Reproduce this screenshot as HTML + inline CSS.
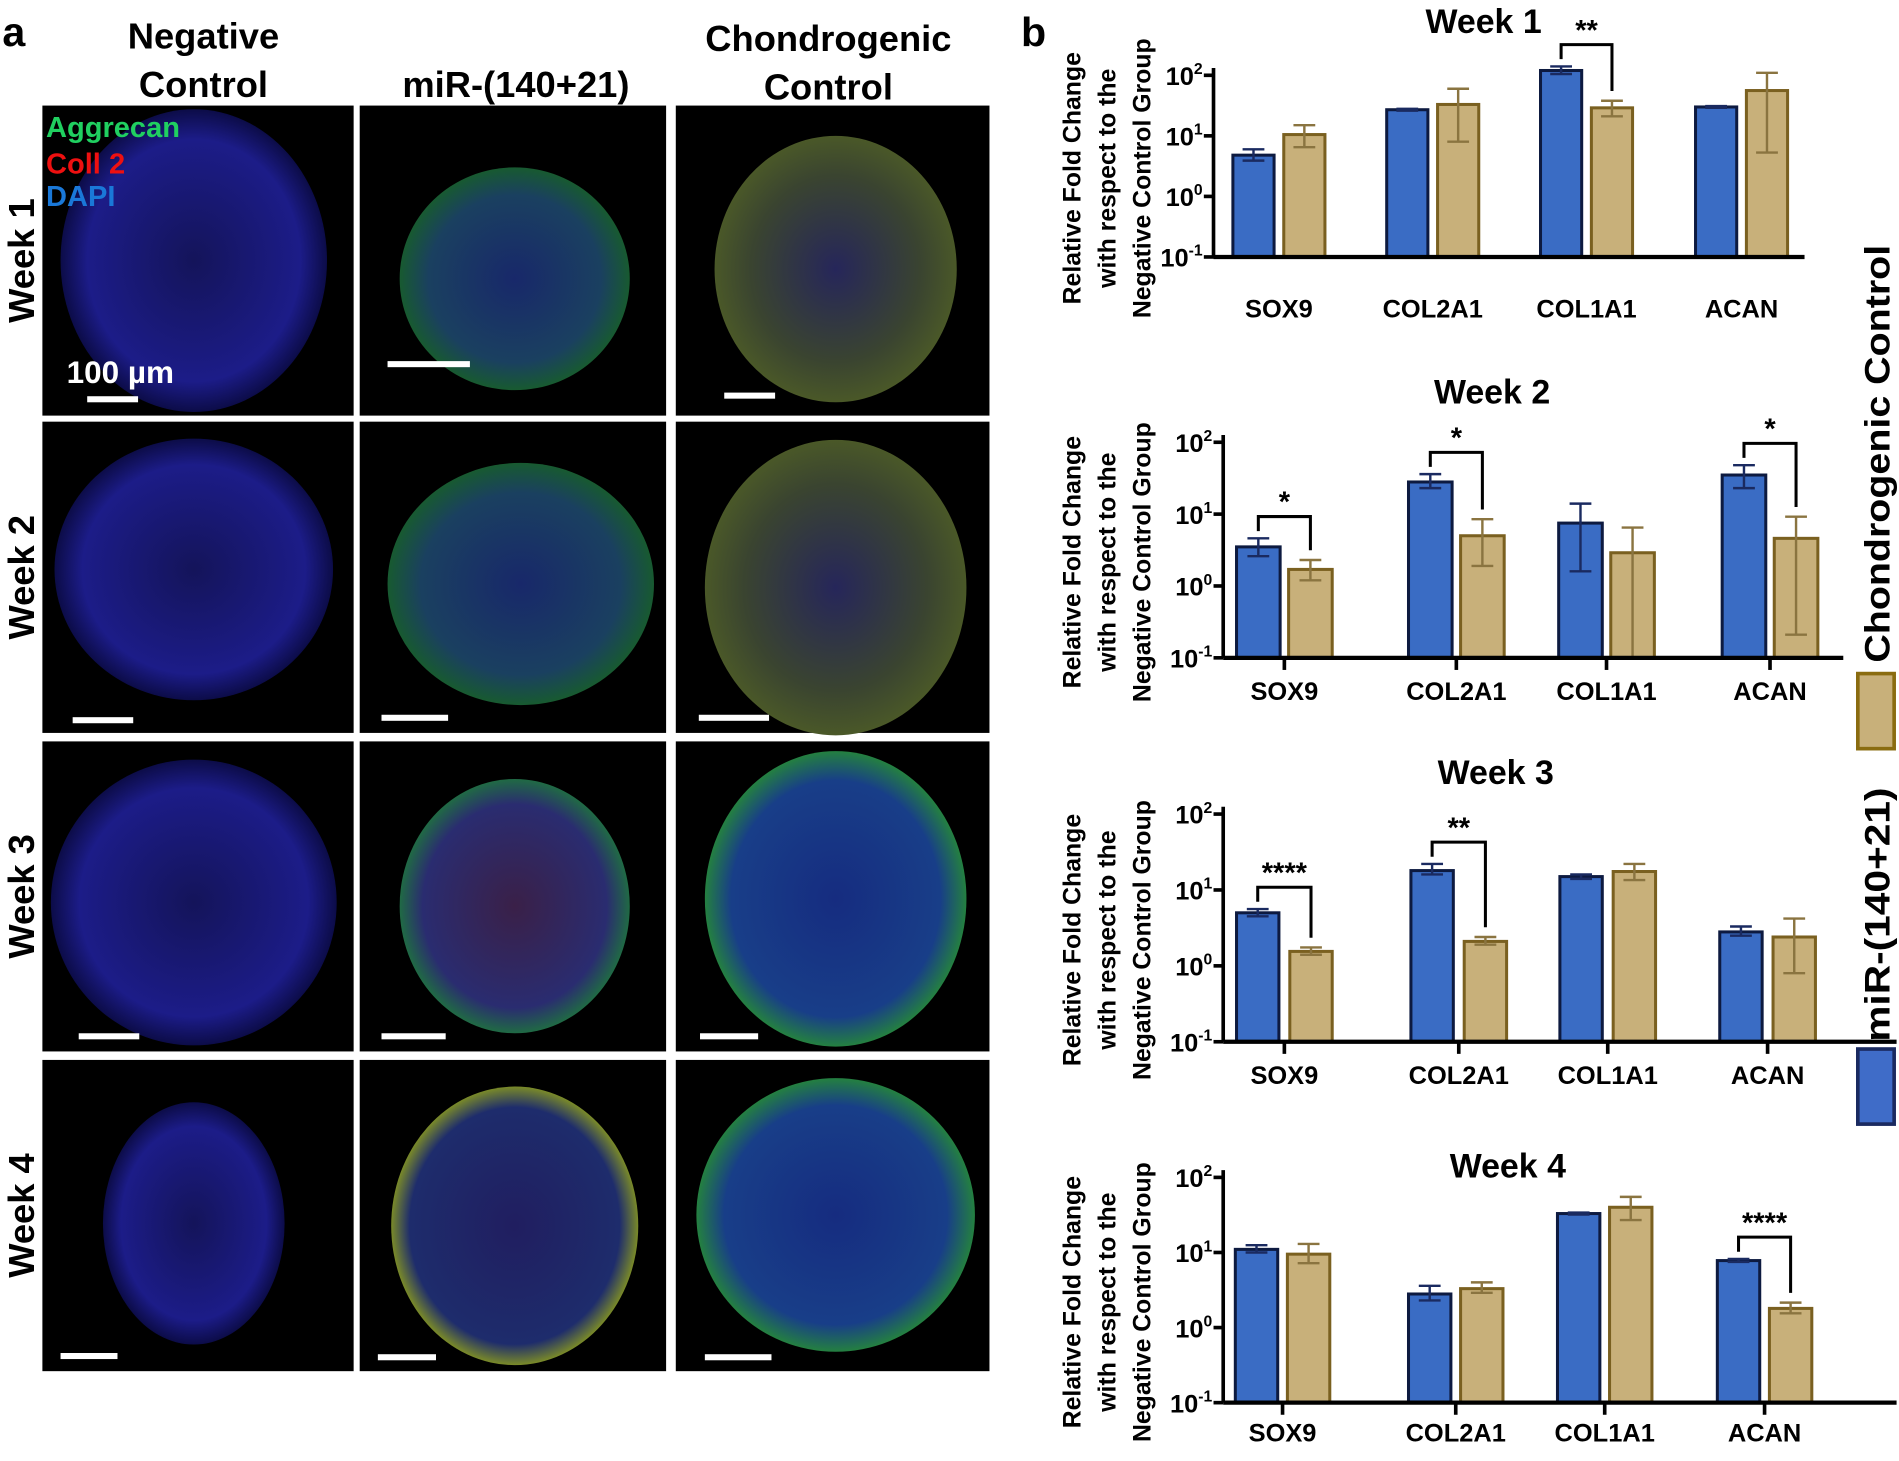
<!DOCTYPE html>
<html><head><meta charset="utf-8">
<style>
html,body{margin:0;padding:0;background:#fff;}
svg{display:block;}
text{font-family:"Liberation Sans",Arial,sans-serif;font-weight:bold;fill:#000;}
.n{font-family:"Liberation Sans",sans-serif;}
</style></head>
<body>
<svg id="fig" width="1899" height="1461" viewBox="0 0 1568 1206" xmlns="http://www.w3.org/2000/svg">
<defs>
<radialGradient id="gBlue"><stop offset="0" stop-color="#14145a"/><stop offset="0.8" stop-color="#1c1c88"/><stop offset="1" stop-color="#0c0c48"/></radialGradient>
<radialGradient id="gTeal"><stop offset="0" stop-color="#18286a"/><stop offset="0.75" stop-color="#1a4060"/><stop offset="1" stop-color="#185a30"/></radialGradient>
<radialGradient id="gOlive"><stop offset="0" stop-color="#26265a"/><stop offset="0.7" stop-color="#3a4430"/><stop offset="1" stop-color="#4a5828"/></radialGradient>
<radialGradient id="gRed"><stop offset="0" stop-color="#3a2048"/><stop offset="0.8" stop-color="#2a2c70"/><stop offset="1" stop-color="#206a44"/></radialGradient>
<radialGradient id="gCyan"><stop offset="0" stop-color="#162c80"/><stop offset="0.8" stop-color="#183e88"/><stop offset="1" stop-color="#248040"/></radialGradient>
<radialGradient id="gRim"><stop offset="0" stop-color="#201e60"/><stop offset="0.85" stop-color="#1e2c6c"/><stop offset="1" stop-color="#7a8a28"/></radialGradient>
</defs>

<g>
<text x="2" y="38" font-size="34">a</text>
<text class="n" x="168" y="40" font-size="30" text-anchor="middle"><tspan x="168">Negative</tspan><tspan x="168" dy="40">Control</tspan></text>
<text class="n" x="426" y="80" font-size="30" text-anchor="middle">miR-(140+21)</text>
<text class="n" x="684" y="42" font-size="30" text-anchor="middle"><tspan x="684">Chondrogenic</tspan><tspan x="684" dy="40">Control</tspan></text>
<g id="images"></g>
<text class="n" x="38" y="113" font-size="24" style="fill:#20d060">Aggrecan</text>
<text class="n" x="38" y="143" font-size="24" style="fill:#ee1010">Coll 2</text>
<text class="n" x="38" y="170" font-size="24" style="fill:#1a78d8">DAPI</text>
<text class="n" x="55" y="316" font-size="26" style="fill:#fff">100 µm</text>
</g>

<g>
<text x="843" y="38" font-size="34">b</text>
<g id="charts"></g>
<g>
<rect x="1534" y="556" width="30" height="62" fill="#c8b07a" stroke="#8a6c10" stroke-width="3"/>
<text class="n" transform="translate(1560,547) rotate(-90)" font-size="29" textLength="345" lengthAdjust="spacingAndGlyphs">Chondrogenic Control</text>
<rect x="1534" y="866" width="30" height="62" fill="#3f6cc8" stroke="#1a2a60" stroke-width="3"/>
<text class="n" transform="translate(1560,860) rotate(-90)" font-size="29" textLength="210" lengthAdjust="spacingAndGlyphs">miR-(140+21)</text>
</g>
</g>
</svg>
<script>
// ---- chart data ----
const categories = ["SOX9","COL2A1","COL1A1","ACAN"];
const weeks = ["Week 1","Week 2","Week 3","Week 4"];
const tickExps = [2,1,0,-1];
const mirW1 = [4.8, 27, 120, 30];
const mirW1Lo = [3.9, 26, 105, 29];
const mirW1Hi = [6, 28, 140, 31];
const chW1 = [10.5, 33, 29, 56];
const chW1Lo = [6.5, 8, 21, 5.3];
const chW1Hi = [15, 60, 38, 110];
const mirW2 = [3.5, 28, 7.5, 35];
const mirW2Lo = [2.6, 23, 1.6, 23];
const mirW2Hi = [4.6, 36, 14, 48];
const chW2 = [1.7, 5, 2.9, 4.6];
const chW2Lo = [1.2, 1.9, 0.1, 0.21];
const chW2Hi = [2.3, 8.5, 6.5, 9.2];
const mirW3 = [5, 18, 15, 2.8];
const mirW3Lo = [4.5, 16, 14, 2.5];
const mirW3Hi = [5.6, 22, 16, 3.3];
const chW3 = [1.55, 2.1, 17.5, 2.4];
const chW3Lo = [1.4, 1.9, 13.5, 0.8];
const chW3Hi = [1.75, 2.4, 22, 4.2];
const mirW4 = [11, 2.8, 33, 7.8];
const mirW4Lo = [10, 2.3, 32, 7.5];
const mirW4Hi = [12.5, 3.6, 34, 8.2];
const chW4 = [9.5, 3.3, 40, 1.8];
const chW4Lo = [7.2, 2.9, 27, 1.55];
const chW4Hi = [13, 4, 55, 2.15];
const sigW1 = [[2,"**"]];
const sigW2 = [[0,"*"],[1,"*"],[3,"*"]];
const sigW3 = [[0,"****"],[1,"**"]];
const sigW4 = [[3,"****"]];

const NS="http://www.w3.org/2000/svg";
function mk(tag, attrs, parent){const e=document.createElementNS(NS,tag);for(const k in attrs)e.setAttribute(k,attrs[k]);parent.appendChild(e);return e;}

const layouts = [
 {ax:1002, yTop:62, yBase:212, xEnd:1490, lefts:[1018,1145,1272,1400], bw:34, off:42, tx:1225, ty:27, ticks:false, ly:262},
 {ax:1010, yTop:365, yBase:543, xEnd:1522, lefts:[1021,1163,1287,1422], bw:36, off:43, tx:1232, ty:333, ticks:true, ly:578},
 {ax:1010, yTop:672, yBase:860, xEnd:1566, lefts:[1021,1165,1288,1420], bw:35, off:44, tx:1235, ty:647, ticks:true, ly:895},
 {ax:1010, yTop:972, yBase:1158, xEnd:1566, lefts:[1020,1163,1286,1418], bw:35, off:43, tx:1245, ty:972, ticks:true, ly:1190}
];
const series = [
 [mirW1,mirW1Lo,mirW1Hi,chW1,chW1Lo,chW1Hi,sigW1],
 [mirW2,mirW2Lo,mirW2Hi,chW2,chW2Lo,chW2Hi,sigW2],
 [mirW3,mirW3Lo,mirW3Hi,chW3,chW3Lo,chW3Hi,sigW3],
 [mirW4,mirW4Lo,mirW4Hi,chW4,chW4Lo,chW4Hi,sigW4]
];
const charts=document.getElementById('charts');
layouts.forEach((L,wi)=>{
  const g=mk('g',{},charts);
  
  
  const y=v=>L.yBase-(Math.log10(Math.max(v,0.1))+1)/3*(L.yBase-L.yTop);
  const t=mk('text',{x:L.tx,y:L.ty,'font-size':28,'text-anchor':'middle'},g);t.textContent=weeks[wi];
  
  
  const mid=(L.yTop+L.yBase)/2;
  const yt=mk('text',{'font-size':20.5,'text-anchor':'middle',transform:`translate(892,${mid+10}) rotate(-90)`},g);
  
  
  ["Relative  Fold Change","with respect to the","Negative Control Group"].forEach((s,i)=>{const ts=mk('tspan',{x:0,dy:i?29:0},yt);ts.textContent=s;});
  const ya=mk('line',{x1:L.ax,y1:L.yTop-6,x2:L.ax,y2:L.yBase,stroke:'#000','stroke-width':3},g);
  
  
  tickExps.forEach(e=>{
    const yy=y(Math.pow(10,e));
    mk('line',{x1:L.ax-8,y1:yy,x2:L.ax,y2:yy,stroke:'#000','stroke-width':3},g);
    const tl=mk('text',{x:L.ax-9,y:yy+8,'font-size':21,'text-anchor':'end',class:'n'},g);
    
    
    const a=mk('tspan',{},tl);a.textContent='10';
    const b=mk('tspan',{dy:-9,'font-size':13},tl);b.textContent=String(e);
  });
  const s=series[wi];
  categories.forEach((c,ci)=>{
    const xb=L.lefts[ci], xt=xb+L.off;
    [[xb,s[0],s[1],s[2],'#3a6cc4','#0d1a40','#1a2a60'],[xt,s[3],s[4],s[5],'#c8b07a','#7a6020','#8a7440']].forEach((d,k)=>{
      const [x,v,lo,hi,fill,stroke,ec]=d;
      const r=mk('rect',{x:x,y:y(v[ci]),width:L.bw,height:L.yBase-y(v[ci]),fill:fill,stroke:stroke,'stroke-width':2.5},g);
      
      
      const cx=x+L.bw/2;
      const eb=mk('path',{d:`M${cx},${y(lo[ci])}V${y(hi[ci])}M${cx-9},${y(hi[ci])}H${cx+9}M${cx-9},${y(lo[ci])}H${cx+9}`,stroke:ec,'stroke-width':2,fill:'none'},g);
      
      
    });
    const mx=(xb+xt+L.bw)/2;
    if(L.ticks) mk('line',{x1:mx,y1:L.yBase,x2:mx,y2:L.yBase+10,stroke:'#000','stroke-width':3},g);
    const cl=mk('text',{x:mx,y:L.ly,'font-size':21,'text-anchor':'middle',class:'n'},g);cl.textContent=c;
    
    
  });
  const xa=mk('line',{x1:L.ax,y1:L.yBase,x2:L.xEnd,y2:L.yBase,stroke:'#000','stroke-width':3.5},g);
  
  
  s[6].forEach(([ci,lab])=>{
    const xb=L.lefts[ci]+L.bw/2, xt=L.lefts[ci]+L.off+L.bw/2;
    const top=Math.min(y(s[2][ci]),y(s[5][ci]))-18;
    const p=mk('path',{d:`M${xb},${y(s[2][ci])-6}V${top}H${xt}V${y(s[5][ci])-8}`,stroke:'#000','stroke-width':2.5,fill:'none'},g);
    
    
    const st=mk('text',{x:(xb+xt)/2,y:top-4,'font-size':24,'text-anchor':'middle'},g);st.textContent=lab;
    
    
  });
});

// ---- panel a images (decorative) ----
const imgs=document.getElementById('images');
const cols=[[35,292],[297,550],[558,817]];
const rows=[[87,343],[348,605],[612,868],[875,1132]];
const blobs=[
 [[160,215,110,125,'gBlue'],[425,230,95,92,'gTeal'],[690,222,100,110,'gOlive']],
 [[160,470,115,108,'gBlue'],[430,482,110,100,'gTeal'],[690,485,108,122,'gOlive']],
 [[160,745,118,118,'gBlue'],[425,748,95,105,'gRed'],[690,742,108,122,'gCyan']],
 [[160,1010,75,100,'gBlue'],[425,1012,102,115,'gRim'],[690,1003,115,113,'gCyan']]
];
const bars=[[[72,114,16],[320,388,45],[598,640,19]],[[60,110,13],[315,370,15],[577,635,15]],[[65,115,15],[315,368,15],[578,626,15]],[[50,97,15],[312,360,14],[582,637,14]]];
rows.forEach((r,ri)=>{
  const lab=mk('text',{'font-size':30,'text-anchor':'middle',transform:`translate(28,${(r[0]+r[1])/2}) rotate(-90)`},imgs);
  lab.textContent='Week '+(ri+1);
  
  
  cols.forEach((c,ci)=>{
    const rc=mk('rect',{x:c[0],y:r[0],width:c[1]-c[0],height:r[1]-r[0],fill:'#000'},imgs);
    
    
    const b=blobs[ri][ci];
    mk('ellipse',{cx:b[0],cy:b[1],rx:b[2],ry:b[3],fill:`url(#${b[4]})`},imgs);
    const sb=bars[ri][ci];
    const sbar=mk('rect',{x:sb[0],y:r[1]-sb[2],width:sb[1]-sb[0],height:5,fill:'#fff'},imgs);
    
    
  });
});
</script>
</body></html>
